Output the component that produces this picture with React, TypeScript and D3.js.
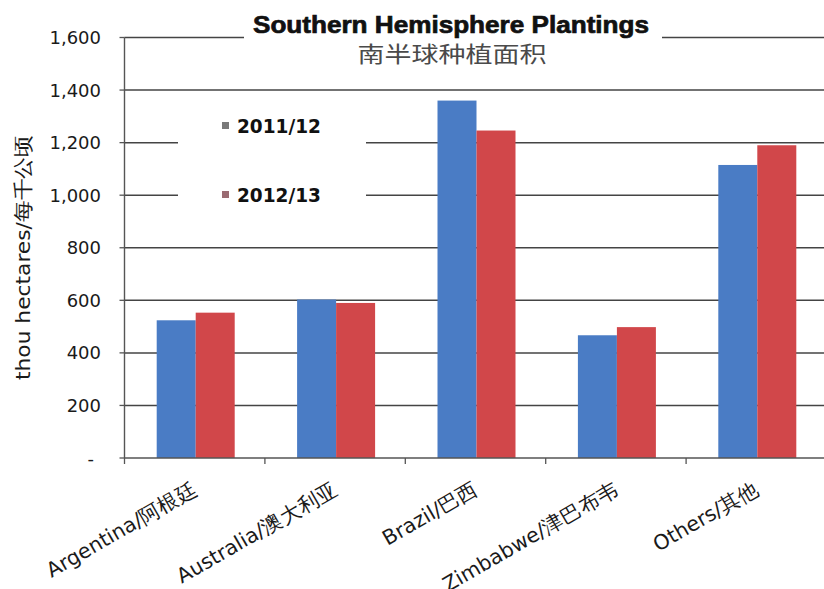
import React from "react";
import * as d3 from "d3";

const categories = ["Argentina/阿根廷", "Australia/澳大利亚", "Brazil/巴西", "Zimbabwe/津巴布韦", "Others/其他"];
const series2011 = [524, 603, 1360, 467, 1115];
const series2012 = [553, 590, 1246, 498, 1190];
const seriesNames = ["2011/12", "2012/13"];
const yTicks = [0, 200, 400, 600, 800, 1000, 1200, 1400, 1600];

const W = 824;
const H = 589;
const left = 124.5;
const right = 826.5;
const top = 37.5;
const bottom = 458;
const FONT = "'DejaVu Sans', Verdana, sans-serif";

export default function App() {
  const x0 = d3.scaleBand<string>().domain(categories).range([left, right]).paddingInner(0).paddingOuter(0);
  const x1 = d3.scaleBand<string>().domain(seriesNames).range([0, x0.bandwidth()]).paddingInner(0).paddingOuter(0.8);
  const y = d3.scaleLinear().domain([0, 1600]).range([bottom, top]);
  const fmt = d3.format(",");
  const colors = ["#4a7cc5", "#d1474a"];
  const legendColors = ["#7a7a7a", "#9a6b72"];
  const data = [series2011, series2012];
  const ticksX = categories.map((c) => x0(c)!).concat([right]);

  return (
    <svg width={W} height={H} style={{ position: "absolute", left: 0, top: 0, background: "#fff" }}
      fontFamily={FONT}>
      <rect width={W} height={H} fill="#fff" />
      {/* gridlines */}
      {yTicks.slice(1).map((t) => (
        <line key={t} x1={left} x2={W} y1={y(t)} y2={y(t)} stroke="#444" strokeWidth={1.5} />
      ))}
      {/* bars */}
      {data.map((s, si) =>
        s.map((v, i) => (
          <rect key={si + "-" + i}
            x={x0(categories[i])! + x1(seriesNames[si])! + 1}
            y={y(v)}
            width={x1.bandwidth()}
            height={bottom - y(v)}
            fill={colors[si]} />
        ))
      )}
      {/* axes */}
      <line x1={left} x2={left} y1={top} y2={bottom} stroke="#555" strokeWidth={1.4} />
      <line x1={left} x2={W} y1={bottom} y2={bottom} stroke="#555" strokeWidth={1.4} />
      {yTicks.map((t) => (
        <line key={"yt" + t} x1={left - 5} x2={left} y1={y(t)} y2={y(t)} stroke="#555" strokeWidth={1.3} />
      ))}
      {ticksX.map((tx, i) => (
        <line key={"xt" + i} x1={tx} x2={tx} y1={bottom} y2={bottom + 6} stroke="#555" strokeWidth={1.3} />
      ))}
      {/* y tick labels */}
      {yTicks.map((t) => (
        <text key={"yl" + t} x={t === 0 ? 94 : 101} y={y(t) + 6.5} textAnchor="end" fontSize={18} fill="#1a1a1a">
          {t === 0 ? "-" : fmt(t)}
        </text>
      ))}
      {/* y axis title */}
      <text transform={`translate(30,257.5) rotate(-90)`} textAnchor="middle" fontSize={20} fill="#1a1a1a"
        textLength={245} lengthAdjust="spacingAndGlyphs">
        thou hectares/每千公顷
      </text>
      {/* x labels */}
      {categories.map((c) => {
        const cx = x0(c)! + x0.bandwidth() / 2 + 4;
        return (
          <text key={c} transform={`translate(${cx},${bottom + 35}) rotate(-30)`} textAnchor="end" fontSize={20.5} fill="#1a1a1a">
            {c}
          </text>
        );
      })}
      {/* title */}
      <rect x={244} y={8} width={418} height={40} fill="#fff" />
      <text x={451} y={33} textAnchor="middle" fontSize={24} fontWeight="bold" fill="#111"
        stroke="#111" strokeWidth={0.7}
        fontFamily="'Liberation Sans Narrow', 'Arial Narrow', 'Liberation Sans', Arial, sans-serif"
        textLength={396} lengthAdjust="spacingAndGlyphs">
        Southern Hemisphere Plantings
      </text>
      <text x={452} y={62} textAnchor="middle" fontSize={22} fill="#4a4a4a"
        fontFamily="'Noto Sans CJK SC', sans-serif" textLength={189} lengthAdjust="spacingAndGlyphs">
        南半球种植面积
      </text>
      {/* legend */}
      <rect x={178} y={104} width={188} height={125} fill="#fff" />
      {seriesNames.map((n, i) => (
        <g key={n} transform={`translate(222,${133 + i * 69})`}>
          <rect x={0} y={-11} width={7} height={7} fill={legendColors[i]} />
          <text x={15} y={0} fontSize={19} fontWeight="bold" fill="#111" textLength={84} lengthAdjust="spacingAndGlyphs">{n}</text>
        </g>
      ))}
    </svg>
  );
}
